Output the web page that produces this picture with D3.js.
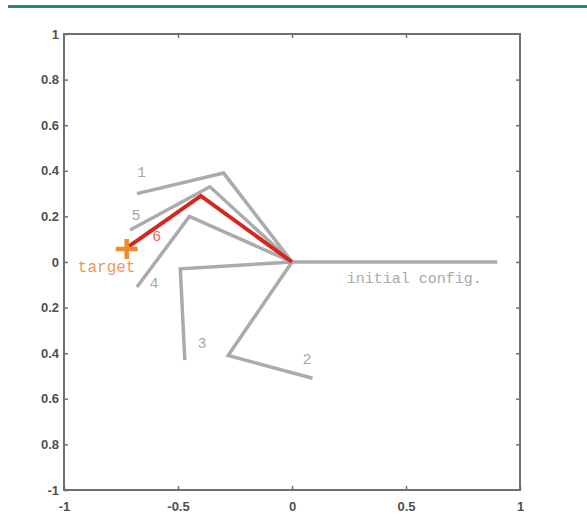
<!DOCTYPE html>
<html>
<head>
<meta charset="utf-8">
<script src="https://cdn.jsdelivr.net/npm/d3@7"></script>
<style>
  html, body { margin: 0; padding: 0; background: #ffffff; }
  svg { display: block; }
</style>
</head>
<body>
<svg id="chart" width="587" height="525"></svg>
<script>
// Two-link arm: shoulder at the origin, elbow and tip for each configuration.
const armNames = ["initial config.", "1", "2", "3", "4", "5", "6"];
const elbowX = [0.50, -0.30, -0.28, -0.49, -0.45, -0.36, -0.40];
const elbowY = [0.00,  0.39, -0.41, -0.03,  0.20,  0.33,  0.29];
const tipX   = [0.90, -0.68,  0.09, -0.47, -0.68, -0.71, -0.72];
const tipY   = [0.00,  0.30, -0.51, -0.43, -0.11,  0.14,  0.065];

// Where each configuration's label sits (data coordinates).
const labelX = [0.24, -0.66, 0.066, -0.395, -0.605, -0.684, -0.593];
const labelY = [-0.075, 0.386, -0.43, -0.364, -0.10, 0.199, 0.108];

// Goal point for the arm tip.
const targetX = [-0.725];
const targetY = [0.057];
const targetText = ["target"];
const targetLabelX = [-0.813];
const targetLabelY = [-0.026];

// Axis ticks and the labels printed beside them.
const xTicks = [-1, -0.5, 0, 0.5, 1];
const xTickLabels = ["-1", "-0.5", "0", "0.5", "1"];
const yTicks = [1, 0.8, 0.6, 0.4, 0.2, 0, -0.2, -0.4, -0.6, -0.8, -1];
const yTickLabels = ["1", "0.8", "0.6", "0.4", "0.2", "0", "0.2", "0.4", "0.6", "0.8", "-1"];

const svg = d3.select("#chart");

// Teal rule across the top of the figure
svg.append("line")
  .attr("x1", 8).attr("x2", 587).attr("y1", 6.5).attr("y2", 6.5)
  .attr("stroke", "#1a8a7b").attr("stroke-width", 3);

const plotLeft = 64, plotRight = 520, plotTop = 34, plotBottom = 490;
const x = d3.scaleLinear().domain([-1, 1]).range([plotLeft, plotRight]);
const y = d3.scaleLinear().domain([-1, 1]).range([plotBottom, plotTop]);

const tickLen = 4;
const axisColor = "#707070";

// Axes: ticks point into the plot on all four sides
function styleAxis(g) {
  g.select(".domain").remove();
  g.selectAll(".tick line").attr("stroke", axisColor).attr("stroke-width", 1.5);
  g.selectAll(".tick text")
    .attr("fill", "#505050")
    .style("font-family", "'Liberation Sans', Arial, sans-serif")
    .style("font-size", "13px")
    .style("font-weight", "bold");
}

svg.append("g")
  .attr("transform", `translate(0,${plotBottom})`)
  .call(d3.axisBottom(x).tickValues(xTicks)
    .tickFormat((d, i) => xTickLabels[i]).tickSizeInner(-tickLen).tickPadding(12))
  .call(styleAxis);

svg.append("g")
  .attr("transform", `translate(0,${plotTop})`)
  .call(d3.axisTop(x).tickValues(xTicks.slice(1, -1)).tickFormat("").tickSizeInner(-tickLen))
  .call(styleAxis);

svg.append("g")
  .attr("transform", `translate(${plotLeft},0)`)
  .call(d3.axisLeft(y).tickValues(yTicks)
    .tickFormat((d, i) => yTickLabels[i]).tickSizeInner(-tickLen).tickPadding(5))
  .call(styleAxis);

svg.append("g")
  .attr("transform", `translate(${plotRight},0)`)
  .call(d3.axisRight(y).tickValues(yTicks.slice(1, -1)).tickFormat("").tickSizeInner(-tickLen))
  .call(styleAxis);

// Plot frame
svg.append("rect")
  .attr("x", x(-1)).attr("y", y(1))
  .attr("width", x(1) - x(-1)).attr("height", y(-1) - y(1))
  .attr("fill", "none").attr("stroke", axisColor).attr("stroke-width", 2);

// Arm configurations
const line = d3.line().x(d => x(d[0])).y(d => y(d[1]));
const arms = armNames.map((name, i) => ({
  name,
  pts: [[0, 0], [elbowX[i], elbowY[i]], [tipX[i], tipY[i]]],
  lx: labelX[i], ly: labelY[i],
  final: i === armNames.length - 1
}));

svg.append("g").selectAll("path")
  .data(arms.filter(a => !a.final))
  .join("path")
  .attr("d", a => line(a.pts))
  .attr("fill", "none")
  .attr("stroke", "#ababab")
  .attr("stroke-width", 3.5)
  .attr("stroke-linejoin", "miter");

svg.append("g").selectAll("path")
  .data(arms.filter(a => a.final))
  .join("path")
  .attr("d", a => line(a.pts))
  .attr("fill", "none")
  .attr("stroke", "#d8261d")
  .attr("stroke-width", 4)
  .attr("stroke-linejoin", "miter");

svg.append("g").selectAll("text")
  .data(arms)
  .join("text")
  .attr("x", a => x(a.lx))
  .attr("y", a => y(a.ly))
  .attr("text-anchor", a => a.name.length > 1 ? "start" : "middle")
  .attr("dominant-baseline", "central")
  .attr("fill", a => a.final ? "#e06a62" : "#a8a8a8")
  .style("font-family", "'Liberation Mono', 'Courier New', monospace")
  .style("font-size", "15px")
  .text(a => a.name);

// Target marker
const plus = 10;
const tg = svg.append("g");
targetX.forEach((tx, i) => {
  const cx = x(tx), cy = y(targetY[i]);
  tg.append("line").attr("x1", cx - plus - 1).attr("x2", cx + plus + 1).attr("y1", cy).attr("y2", cy)
    .attr("stroke", "#f08a2a").attr("stroke-width", 4.5);
  tg.append("line").attr("x1", cx).attr("x2", cx).attr("y1", cy - plus).attr("y2", cy + plus)
    .attr("stroke", "#f08a2a").attr("stroke-width", 4.5);
  tg.append("text")
    .attr("x", x(targetLabelX[i])).attr("y", y(targetLabelY[i]))
    .attr("text-anchor", "middle").attr("dominant-baseline", "central")
    .attr("fill", "#ec9852")
    .style("font-family", "'Liberation Mono', 'Courier New', monospace")
    .style("font-size", "16px")
    .text(targetText[i]);
});
</script>
</body>
</html>
